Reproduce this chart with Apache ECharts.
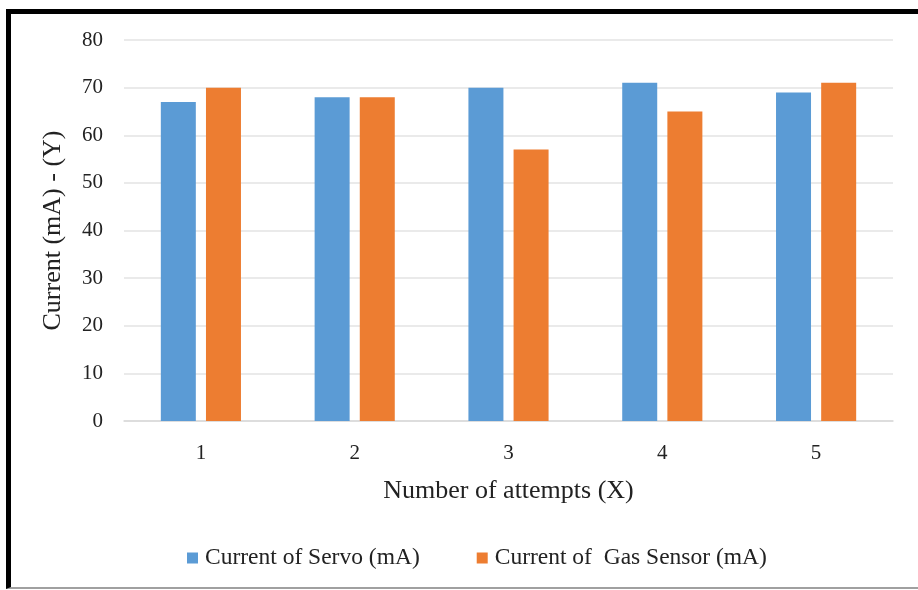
<!DOCTYPE html>
<html>
<head>
<meta charset="utf-8">
<script src="https://cdn.jsdelivr.net/npm/echarts@6/dist/echarts.min.js"></script>
<style>
  html, body { margin: 0; padding: 0; background: #fff; }
  #frame {
    position: absolute; left: 6px; top: 9px; width: 912px; height: 580px;
    border-top: 5px solid #000; border-left: 5px solid #000; border-bottom: 2px solid #a0a0a0;
    box-sizing: border-box;
  }
  #chart { position: absolute; left: 0; top: 0; width: 918px; height: 590px; }
</style>
</head>
<body>
<div id="frame"></div>
<div id="chart"></div>
<script>
// Attempt numbers along the x axis
const attempts = ['1', '2', '3', '4', '5'];
// Measured currents per attempt (mA)
const servoCurrent = [67, 68, 70, 71, 69];
const gasSensorCurrent = [70, 68, 57, 65, 71];
const seriesNames = ['Current of Servo (mA)', 'Current of  Gas Sensor (mA)'];

const font = 'Liberation Serif, Times New Roman, serif';
const textColor = '#222';
const chart = echarts.init(document.getElementById('chart'), null, { renderer: 'canvas' });

chart.setOption({
  backgroundColor: 'transparent',
  animation: false,
  textStyle: { fontFamily: font },
  grid: { left: 124, right: 25, top: 40, bottom: 169 },
  legend: {
    top: 541,
    left: 182,
    itemWidth: 11,
    itemHeight: 11,
    itemGap: 57,
    icon: 'rect',
    textStyle: { fontFamily: font, fontSize: 23.5, color: textColor, padding: [0, 0, 0, 2] },
    data: seriesNames
  },
  xAxis: {
    type: 'category',
    data: attempts,
    name: 'Number of attempts (X)',
    nameLocation: 'middle',
    nameGap: 57,
    nameTextStyle: { fontFamily: font, fontSize: 26, color: textColor },
    axisLine: { lineStyle: { color: '#d9d9d9', width: 1.5 } },
    axisTick: { show: false },
    axisLabel: { fontFamily: font, fontSize: 21, color: textColor, margin: 22 }
  },
  yAxis: {
    type: 'value',
    min: 0,
    max: 80,
    interval: 10,
    name: 'Current (mA) - (Y)',
    nameLocation: 'middle',
    nameGap: 58,
    nameTextStyle: { fontFamily: font, fontSize: 26, color: textColor },
    axisLine: { show: false },
    axisTick: { show: false },
    axisLabel: { fontFamily: font, fontSize: 21, color: textColor, margin: 21 },
    splitLine: { lineStyle: { color: '#e3e3e3', width: 1.5 } }
  },
  series: [
    {
      name: seriesNames[0],
      type: 'bar',
      data: servoCurrent,
      barWidth: 35,
      barGap: '29%',
      itemStyle: { color: '#5B9BD5' }
    },
    {
      name: seriesNames[1],
      type: 'bar',
      data: gasSensorCurrent,
      barWidth: 35,
      barGap: '29%',
      itemStyle: { color: '#ED7D31' }
    }
  ]
});
</script>
</body>
</html>
